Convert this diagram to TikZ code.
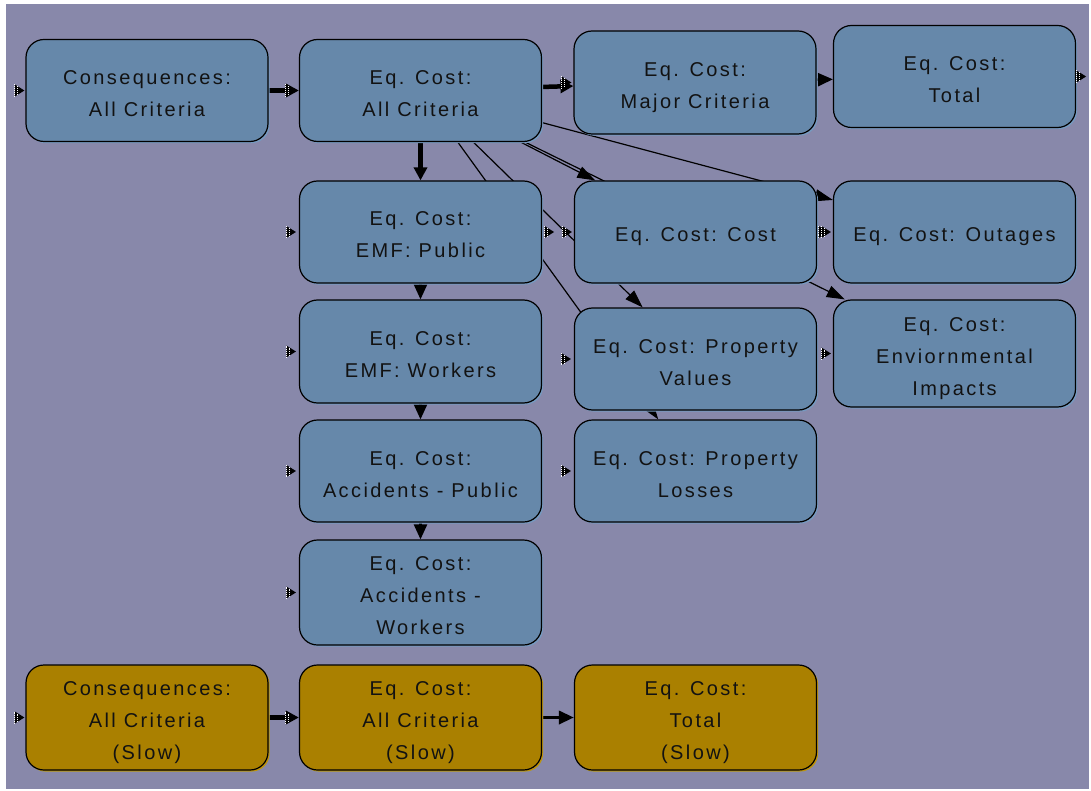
\documentclass[tikz,border=0pt]{standalone}
\usepackage{fontspec}
\setmainfont{Liberation Sans}[LetterSpace=12]
\usetikzlibrary{arrows.meta,shadows,calc}
\definecolor{bgc}{RGB}{136,136,170}
\definecolor{bluebox}{RGB}{102,136,170}
\definecolor{blueshadow}{RGB}{118,154,192}
\definecolor{goldbox}{RGB}{170,128,0}
\definecolor{goldshadow}{RGB}{190,146,10}
\definecolor{txt}{RGB}{18,18,18}
\newcommand{\firststrut}{\rule{0pt}{26pt}}
\newcommand{\laststrut}{\rule[-6pt]{0pt}{6pt}}
\pgfdeclarelayer{bglayer}
\pgfdeclarelayer{edgelayer}
\pgfsetlayers{bglayer,edgelayer,main}
\tikzset{
  box/.style={draw=black, line width=1.2pt, rounded corners=18pt, fill=bluebox,
    minimum width=242pt, minimum height=102pt, inner sep=0pt, align=center,
    text=txt, font=\fontsize{20}{32}\selectfont,
    drop shadow={shadow xshift=1.6pt, shadow yshift=-1.6pt, fill=blueshadow, opacity=1}},
  goldbox/.style={box, fill=goldbox,
    drop shadow={shadow xshift=1.6pt, shadow yshift=-1.6pt, fill=goldshadow, opacity=1}},
  thickedge/.style={line width=4.5pt, -{Triangle[length=13pt,width=13pt]}},
  midedge/.style={line width=2.4pt, -{Triangle[length=15pt,width=13pt]}},
  thinedge/.style={line width=1.2pt, -{Triangle[length=18pt,width=12pt]}},
  portmark/.pic={
    \fill[black] (-4.5,-6) -- (5,0) -- (-4.5,6) -- cycle;
    \draw[white, densely dotted, line width=0.9pt] (-4.5,-6) -- (-4.5,6);
    \draw[white, densely dotted, line width=0.9pt] (-1.5,-4) -- (-1.5,4);
  }
}
\begin{document}
\begin{tikzpicture}[x=1pt,y=-1pt]
\useasboundingbox (0,0) rectangle (1091,791);
\begin{pgfonlayer}{bglayer}
\fill[white] (0,0) rectangle (1091,791);
\fill[bgc] (6,4) rectangle (1089,789);
\end{pgfonlayer}

% nodes
\node[box] (cons) at (147,90.5) {\firststrut Consequences:\\All Criteria\laststrut};
\node[box] (allc) at (420.5,90.5) {\firststrut Eq. Cost:\\All Criteria\laststrut};
\node[box, minimum height=103pt] (major) at (695,82.5) {\firststrut Eq. Cost:\\Major Criteria\laststrut};
\node[box] (total) at (954.5,76.5) {\firststrut Eq. Cost:\\Total\laststrut};
\node[box] (emfp) at (420.5,232) {\firststrut Eq. Cost:\\EMF: Public\laststrut};
\node[box, minimum height=103pt] (emfw) at (420.5,351.5) {\firststrut Eq. Cost:\\EMF: Workers\laststrut};
\node[box] (accp) at (420.5,471) {\firststrut Eq. Cost:\\Accidents - Public\laststrut};
\node[box, minimum height=105pt] (accw) at (420.5,592.5) {\firststrut Eq. Cost:\\Accidents -\\Workers\laststrut};
\node[box] (cost) at (695.5,232) {\firststrut Eq. Cost: Cost\laststrut};
\node[box] (propv) at (695.5,359) {\firststrut Eq. Cost: Property\\Values\laststrut};
\node[box] (propl) at (695.5,471) {\firststrut Eq. Cost: Property\\Losses\laststrut};
\node[box] (outages) at (954.5,232) {\firststrut Eq. Cost: Outages\laststrut};
\node[box, minimum height=107pt] (env) at (954.5,353.5) {\firststrut Eq. Cost:\\Enviornmental\\Impacts\laststrut};
\node[goldbox, minimum height=105pt] (scons) at (147,717.5) {\firststrut Consequences:\\All Criteria\\(Slow)\laststrut};
\node[goldbox, minimum height=105pt] (sallc) at (420.5,717.5) {\firststrut Eq. Cost:\\All Criteria\\(Slow)\laststrut};
\node[goldbox, minimum height=105pt] (stotal) at (695.5,717.5) {\firststrut Eq. Cost:\\Total\\(Slow)\laststrut};

% edges (behind the boxes)
\begin{pgfonlayer}{edgelayer}
\draw[thickedge] (cons) -- (allc);
\draw[thickedge] (allc) -- (major);
\draw[midedge] (major) -- (total);
\draw[thickedge] (allc) -- (emfp);
\draw[midedge] (emfp) -- (emfw);
\draw[midedge] (emfw) -- (accp);
\draw[midedge] (accp) -- (accw);
\draw[thinedge] (allc) -- (cost);
\draw[thinedge] (allc) -- (outages);
\draw[thinedge] (allc) -- (env);
\draw[thinedge] (allc) -- (propv);
\draw[thinedge] (allc) -- (propl);
\draw[thickedge] (scons) -- (sallc);
\draw[midedge, line width=3.4pt] (sallc) -- (stotal);
\end{pgfonlayer}

% port markers
\pic at ($(cons.west)+(-6,0)$) {portmark};
\pic at ($(allc.west)+(-9,0)$) {portmark};
\pic at ($(major.west)+(-7,0)$) {portmark};
\pic at ($(total.east)+(5,0)$) {portmark};
\pic at ($(emfp.west)+(-8,0)$) {portmark};
\pic at ($(emfp.east)+(7,0)$) {portmark};
\pic at ($(cost.west)+(-7,0)$) {portmark};
\pic at ($(cost.east)+(6,0)$) {portmark};
\pic at ($(outages.west)+(-7,0)$) {portmark};
\pic at ($(emfw.west)+(-8,0)$) {portmark};
\pic at ($(propv.west)+(-8,0)$) {portmark};
\pic at ($(env.west)+(-7,0)$) {portmark};
\pic at ($(accp.west)+(-8,0)$) {portmark};
\pic at ($(propl.west)+(-8,0)$) {portmark};
\pic at ($(accw.west)+(-8,0)$) {portmark};
\pic at ($(scons.west)+(-6,0)$) {portmark};
\pic at ($(sallc.west)+(-9,0)$) {portmark};
\end{tikzpicture}
\end{document}
